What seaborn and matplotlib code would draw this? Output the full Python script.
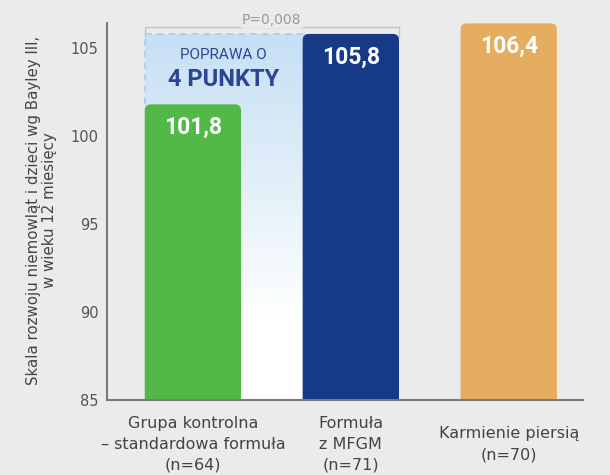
import matplotlib
matplotlib.use("Agg")
import matplotlib.pyplot as plt
import numpy as np
import pandas as pd
import seaborn as sns
from matplotlib.patches import FancyBboxPatch
from matplotlib.colors import LinearSegmentedColormap

groups = ["Grupa kontrolna\n– standardowa formuła\n(n=64)", "Formuła\nz MFGM\n(n=71)", "Karmienie piersią\n(n=70)"]
scores = [101.8, 105.8, 106.4]
score_labels = ["101,8", "105,8", "106,4"]
bar_colors = ["#52b848", "#163a86", "#e4ad5f"]
y_ticks = [85, 90, 95, 100, 105]
p_label = "P=0,008"
gain_small = "POPRAWA O"
gain_big = "4 PUNKTY"
y_title = "Skala rozwoju niemowląt i dzieci wg Bayley III,\nw wieku 12 miesięcy"

bg = "#ebebeb"
sns.set_theme(style="white")
plt.rcParams["font.family"] = ["DejaVu Sans"]

fig = plt.figure(figsize=(6.1, 4.75), dpi=100, facecolor=bg)
ax = fig.add_axes([0.1754, 0.158, 0.7803, 0.815])
ax.set_facecolor(bg)

df = pd.DataFrame({"group": groups, "score": scores})
sns.barplot(data=df, x="group", y="score", hue="group", palette=bar_colors,
            width=0.61, saturation=1, legend=False, ax=ax)

ax.set_ylim(85, 107)
ax.set_xlim(-0.544, 2.47)

# zaokraglone slupki zamiast zwyklych prostokatow
bars = list(ax.patches)
aspect = 8.5
boxes = []
for p, c in zip(bars, bar_colors):
    x, w, h = p.get_x(), p.get_width(), p.get_height()
    p.remove()
    fb = FancyBboxPatch((x, 0), w, h, boxstyle="round,pad=0,rounding_size=0.04",
                        mutation_aspect=aspect, facecolor=c, edgecolor="none", zorder=3)
    ax.add_patch(fb)
    boxes.append((x, w, h))

# niebieskie pole z gradientem miedzy grupa kontrolna a MFGM
gx0 = boxes[0][0]
gx1 = boxes[1][0] + boxes[1][1]
gtop = scores[1]
cmap = LinearSegmentedColormap.from_list(
    "grad", [(0, "#ffffff"), (0.22, "#ffffff"), (0.6, "#e2eff9"), (1, "#c6dff5")])
grad = np.linspace(0, 1, 256).reshape(-1, 1)
clip = FancyBboxPatch((gx0, 80), gx1 - gx0, gtop - 80, boxstyle="round,pad=0,rounding_size=0.04",
                      mutation_aspect=aspect, facecolor="none", edgecolor="none",
                      transform=ax.transData)
ax.add_patch(clip)
img = ax.imshow(grad, extent=[gx0, gx1, 85, gtop], origin="lower", aspect="auto",
                cmap=cmap, zorder=1)
img.set_clip_path(clip)
# przerywana ramka tylko nad zielonym slupkiem i u gory
ax.plot([gx0, gx0, boxes[1][0]], [scores[0], gtop, gtop], color="#a9cdef",
        linestyle=(0, (4, 3)), linewidth=1.2, zorder=2)

# wartosci na slupkach
for i, (v, lab) in enumerate(zip(scores, score_labels)):
    ax.text(i, v - 1.3, lab, ha="center", va="center", color="white",
            fontsize=16.5, fontweight="bold", family=["Roboto", "DejaVu Sans"], zorder=4)

gx_mid = (gx0 + boxes[1][0]) / 2
ax.text(gx_mid, 104.6, gain_small, ha="center", va="center", color="#2a4594",
        fontsize=11, family=["Roboto", "DejaVu Sans"], zorder=4)
ax.text(gx_mid, 103.2, gain_big, ha="center", va="center", color="#2a4594",
        fontsize=17, fontweight="bold", family=["Roboto", "DejaVu Sans"], zorder=4)

# klamra z wartoscia p
ax.plot([gx0, gx0, gx1, gx1], [105.6, 106.2, 106.2, 105.6], color="#c4c4c4",
        linewidth=1, clip_on=False, zorder=2)
ax.text((gx0 + gx1) / 2, 106.6, p_label, ha="center", va="center", color="#9a9a9a",
        fontsize=10, clip_on=False, zorder=3,
        bbox=dict(facecolor=bg, edgecolor="none", pad=1))

ax.set_yticks(y_ticks)
ax.set_xlabel("")
ax.set_ylabel(y_title, fontsize=10.8, color="#444444", linespacing=1.1)
ax.yaxis.set_label_coords(-0.105, 0.49)
ax.tick_params(axis="y", length=0, pad=6, labelsize=10.5, labelcolor="#555555")
ax.tick_params(axis="x", length=0, pad=32, labelsize=11.5, labelcolor="#444444")
for lbl in ax.get_xticklabels():
    lbl.set_va("center")
    lbl.set_linespacing(1.5)

sns.despine(ax=ax)
ax.spines["left"].set_bounds(85, 106.4)
ax.spines["left"].set_color("#7a7a7a")
ax.spines["bottom"].set_color("#7a7a7a")
ax.spines["left"].set_linewidth(1.5)
ax.spines["bottom"].set_linewidth(1.5)
ax.spines["left"].set_zorder(5)
ax.spines["bottom"].set_zorder(5)

fig.savefig("out.png", dpi=100, facecolor=bg)
